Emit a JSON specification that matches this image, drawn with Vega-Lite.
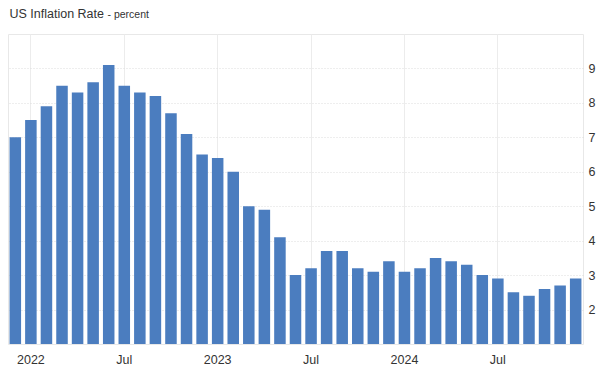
{
  "$schema": "https://vega.github.io/schema/vega-lite/v6.json",
  "width": 575,
  "height": 310,
  "autosize": {"type": "none"},
  "padding": {"left": 8, "top": 34, "right": 17, "bottom": 23},
  "background": "white",
  "config": {
    "view": {"stroke": "#e8e8e8", "strokeWidth": 1},
    "axis": {"labelFont": "Liberation Sans", "titleFont": "Liberation Sans"}
  },
  "data": {
    "values": [
      {"m": "2021-12", "v": 7.0},
      {"m": "2022-01", "v": 7.5},
      {"m": "2022-02", "v": 7.9},
      {"m": "2022-03", "v": 8.5},
      {"m": "2022-04", "v": 8.3},
      {"m": "2022-05", "v": 8.6},
      {"m": "2022-06", "v": 9.1},
      {"m": "2022-07", "v": 8.5},
      {"m": "2022-08", "v": 8.3},
      {"m": "2022-09", "v": 8.2},
      {"m": "2022-10", "v": 7.7},
      {"m": "2022-11", "v": 7.1},
      {"m": "2022-12", "v": 6.5},
      {"m": "2023-01", "v": 6.4},
      {"m": "2023-02", "v": 6.0},
      {"m": "2023-03", "v": 5.0},
      {"m": "2023-04", "v": 4.9},
      {"m": "2023-05", "v": 4.1},
      {"m": "2023-06", "v": 3.0},
      {"m": "2023-07", "v": 3.2},
      {"m": "2023-08", "v": 3.7},
      {"m": "2023-09", "v": 3.7},
      {"m": "2023-10", "v": 3.2},
      {"m": "2023-11", "v": 3.1},
      {"m": "2023-12", "v": 3.4},
      {"m": "2024-01", "v": 3.1},
      {"m": "2024-02", "v": 3.2},
      {"m": "2024-03", "v": 3.5},
      {"m": "2024-04", "v": 3.4},
      {"m": "2024-05", "v": 3.3},
      {"m": "2024-06", "v": 3.0},
      {"m": "2024-07", "v": 2.9},
      {"m": "2024-08", "v": 2.5},
      {"m": "2024-09", "v": 2.4},
      {"m": "2024-10", "v": 2.6},
      {"m": "2024-11", "v": 2.7},
      {"m": "2024-12", "v": 2.9}
    ]
  },
  "mark": {"type": "bar", "color": "#4b7dbf", "clip": true},
  "encoding": {
    "x": {
      "field": "m",
      "type": "ordinal",
      "scale": {"paddingInner": 0.26, "paddingOuter": 0.1},
      "axis": {
        "title": "US Inflation Rate",
        "titleAngle": 0,
        "titleAlign": "left",
        "titleAnchor": null,
        "titleBaseline": "alphabetic",
        "titleX": 1,
        "titleY": -327,
        "titleFontSize": 12.5,
        "titleFontWeight": "normal",
        "titleColor": "#333333",
        "values": ["2022-01", "2022-07", "2023-01", "2023-07", "2024-01", "2024-07"],
        "labelExpr": "slice(datum.value,5)=='01' ? slice(datum.value,0,4) : 'Jul'",
        "labelAngle": 0,
        "labelFontSize": 12.5,
        "labelColor": "#333333",
        "labelPadding": 9,
        "ticks": false,
        "domain": false,
        "grid": true,
        "gridColor": "#ececec",
        "bandPosition": 0.5
      }
    },
    "y": {
      "field": "v",
      "type": "quantitative",
      "scale": {"domain": [1, 10], "nice": false, "zero": false},
      "axis": {
        "orient": "right",
        "values": [2, 3, 4, 5, 6, 7, 8, 9],
        "title": "- percent",
        "titleAngle": 0,
        "titleAlign": "left",
        "titleBaseline": "alphabetic",
        "titleX": -476,
        "titleY": -17,
        "titleFontSize": 10.5,
        "titleFontWeight": "normal",
        "titleColor": "#333333",
        "labelFontSize": 12.5,
        "labelColor": "#333333",
        "labelPadding": 5,
        "ticks": false,
        "domain": false,
        "grid": true,
        "gridColor": "#dddddd",
        "gridDash": [1, 2]
      }
    }
  }
}
